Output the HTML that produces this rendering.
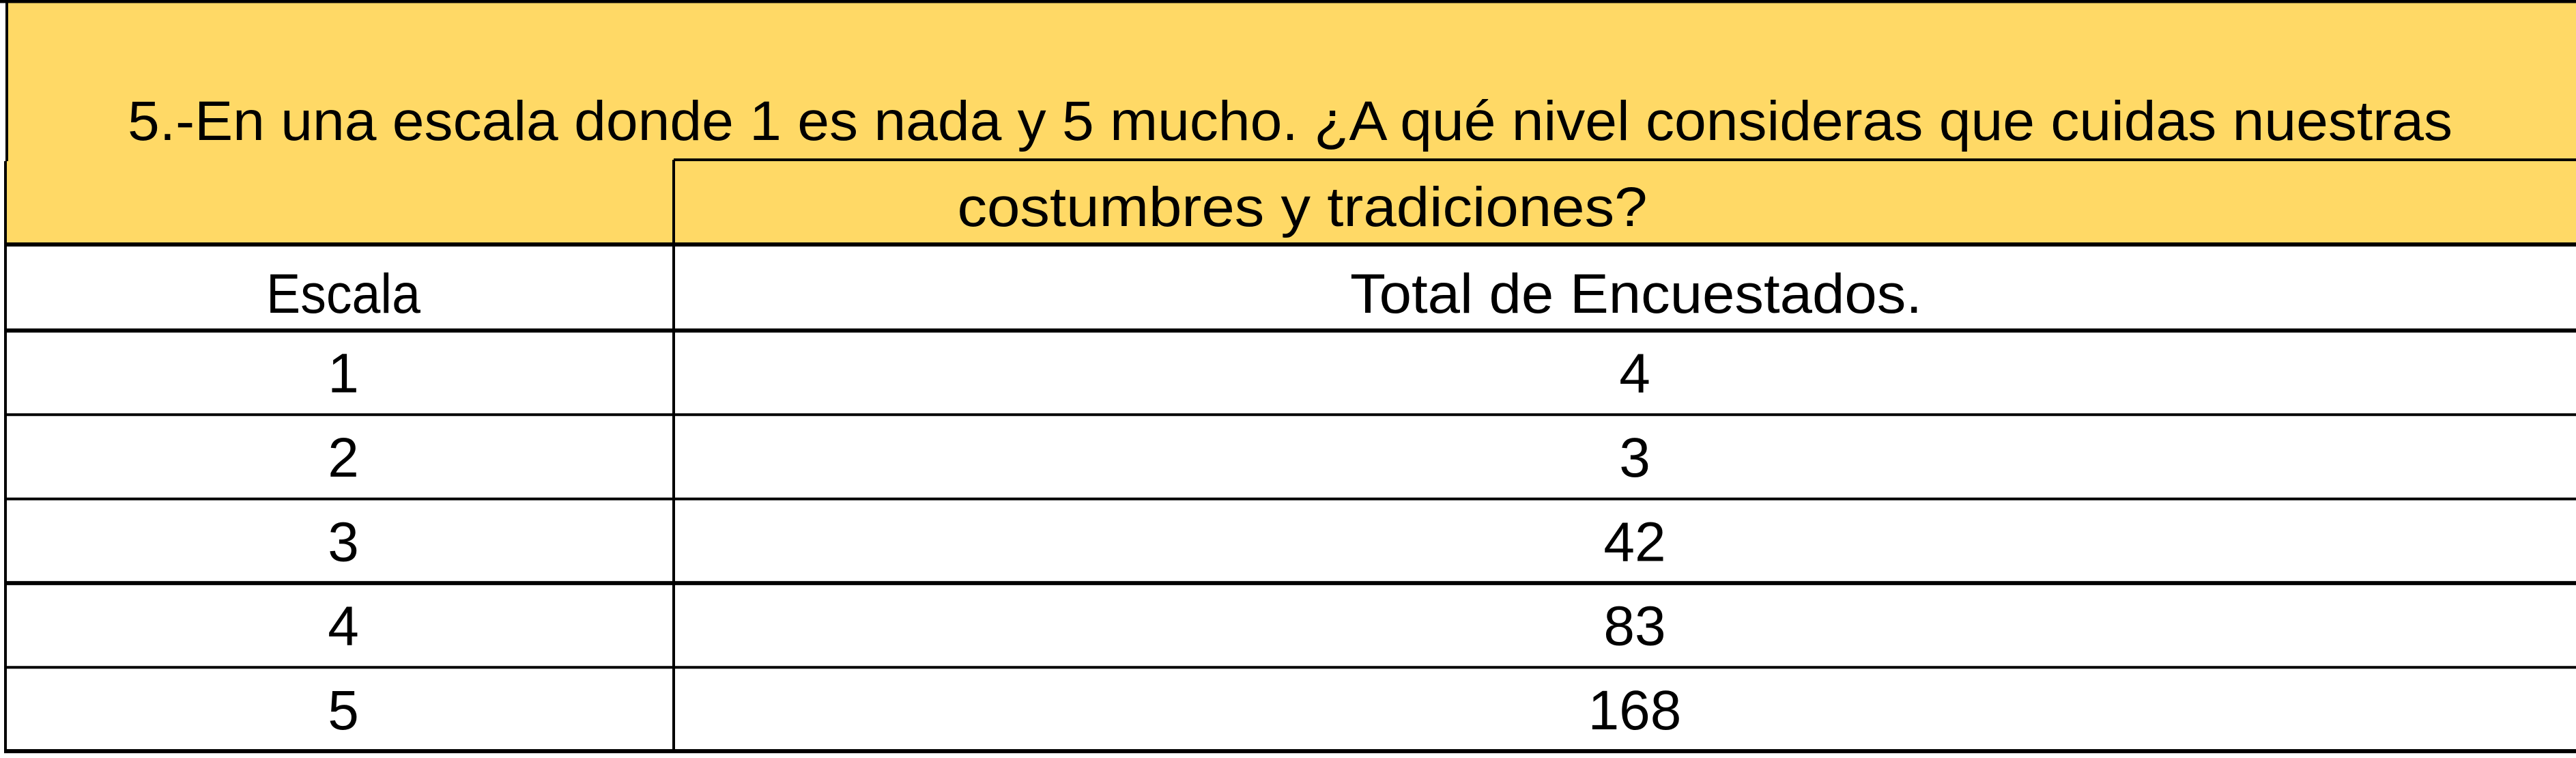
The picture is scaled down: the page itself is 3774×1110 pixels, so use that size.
<!DOCTYPE html>
<html><head><meta charset="utf-8"><style>
html,body{margin:0;padding:0;background:#fff;}
svg{display:block;}
text{font-family:"Liberation Sans",sans-serif;font-size:82px;fill:#000;}
</style></head><body>
<svg id="tbl" width="3774" height="1110" viewBox="0 0 3774 1110" xmlns="http://www.w3.org/2000/svg">
<rect x="8" y="0" width="3766" height="358" fill="#FFD966"/>
<text x="1890" y="205" text-anchor="middle" textLength="3406" lengthAdjust="spacingAndGlyphs">5.-En una escala donde 1 es nada y 5 mucho. ¿A qué nivel consideras que cuidas nuestras</text>
<text x="1908" y="331" text-anchor="middle" textLength="1011" lengthAdjust="spacingAndGlyphs">costumbres y tradiciones?</text>
<g id="lines" stroke="#000" fill="none">
<line x1="0" y1="2" x2="3774" y2="2" stroke-width="5"/>
<line x1="10" y1="2" x2="10" y2="236" stroke-width="4"/>
<line x1="987" y1="234" x2="3774" y2="234" stroke-width="4"/>
<line x1="987" y1="234" x2="987" y2="1102" stroke-width="4"/>
<line x1="8" y1="236" x2="8" y2="1102" stroke-width="4"/>
<line x1="6" y1="358" x2="3774" y2="358" stroke-width="6"/>
</g>
<text x="503" y="458" text-anchor="middle" textLength="226" lengthAdjust="spacingAndGlyphs">Escala</text>
<text x="2397" y="458" text-anchor="middle" textLength="838" lengthAdjust="spacingAndGlyphs">Total de Encuestados.</text>
<g id="rows"></g>
</svg>
<script>
const scales = ["1","2","3","4","5"];
const totals = [4, 3, 42, 83, 168];
const svgNS = "http://www.w3.org/2000/svg";
const g = document.getElementById('rows');
const rowTop = 484, rowH = 123.3;
function rowY(i){ return rowTop + i*rowH; }
for (let i = 0; i <= scales.length; i++) {
  const ln = document.createElementNS(svgNS,'line');
  
  
  ln.setAttribute('x1', 6); ln.setAttribute('x2', 3774);
  const y = i === scales.length ? 1100 : rowY(i);
  ln.setAttribute('y1', y); ln.setAttribute('y2', y);
  ln.setAttribute('stroke', '#000');
  ln.setAttribute('stroke-width', i === 0 || i === 3 || i === scales.length ? 6 : 4);
  g.appendChild(ln);
}
scales.forEach((s, i) => {
  const base = rowY(i) + rowH/2 + 29;
  const t1 = document.createElementNS(svgNS,'text');
  
  
  t1.setAttribute('x', 503); t1.setAttribute('y', base);
  t1.setAttribute('text-anchor', 'middle');
  t1.textContent = s;
  g.appendChild(t1);
  const t2 = document.createElementNS(svgNS,'text');
  
  
  t2.setAttribute('x', 2395); t2.setAttribute('y', base);
  t2.setAttribute('text-anchor', 'middle');
  t2.textContent = String(totals[i]);
  g.appendChild(t2);
});
</script>
</body></html>
